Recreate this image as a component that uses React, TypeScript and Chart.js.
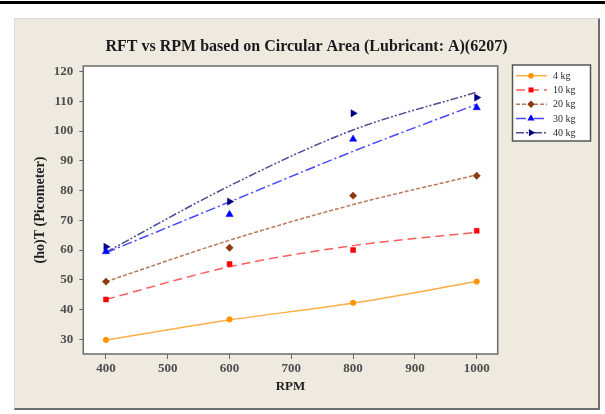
import React, { useEffect, useRef } from "react";
import { Chart, registerables } from "chart.js";

Chart.register(...registerables);

// ---- data ----
const rpmValues = [400, 600, 800, 1000];
const seriesNames = ["4 kg", "10 kg", "20 kg", "30 kg", "40 kg"];

// measured points
const points4kg = [29.8, 36.7, 42.3, 49.4];
const points10kg = [43.4, 55.3, 60.0, 66.5];
const points20kg = [49.4, 60.8, 78.3, 85.0];
const points30kg = [59.5, 72.0, 97.3, 107.9];
const points40kg = [61.1, 76.3, 106.0, 111.3];

// fitted curves
const fit4kg = [29.8, 36.5, 42.2, 49.4];
const fit10kg = [43.4, 54.4, 61.5, 66.0];
const fit20kg = [49.4, 63.3, 75.3, 85.3];
const fit30kg = [59.1, 76.2, 93.2, 109.0];
const fit40kg = [59.3, 81.6, 100.4, 113.1];

const titleText = "RFT vs RPM based on Circular Area (Lubricant: A)(6207)";
const xTitle = "RPM";
const yTitle = "(ho)T (Picometer)";

const pointSets = [points4kg, points10kg, points20kg, points30kg, points40kg];
const fitSets = [fit4kg, fit10kg, fit20kg, fit30kg, fit40kg];

// ---- styles ----
const seriesStyles = [
  { marker: "#FF9400", line: "#FFAD45", pointStyle: "circle", rotation: 0, radius: 2.8, dash: [] as number[] },
  { marker: "#FF0000", line: "#FF5C5C", pointStyle: "rect", rotation: 0, radius: 3.5, dash: [9, 5] },
  { marker: "#8B3A10", line: "#B97A5C", pointStyle: "rectRot", rotation: 0, radius: 3.7, dash: [4, 2] },
  { marker: "#0000FF", line: "#4848FF", pointStyle: "triangle", rotation: 0, radius: 4.2, dash: [10, 3, 2, 3] },
  { marker: "#000080", line: "#4C4C92", pointStyle: "triangle", rotation: 90, radius: 4.2, dash: [8, 2, 2, 2, 2, 2] },
];

const serif = '"Liberation Serif", "DejaVu Serif", serif';

function drawMarker(ctx: CanvasRenderingContext2D, style: string, x: number, y: number, r: number, rotationDeg: number) {
  ctx.beginPath();
  const rad = (rotationDeg * Math.PI) / 180;
  if (style === "circle") {
    ctx.arc(x, y, r, 0, Math.PI * 2);
  } else if (style === "rect") {
    const s = r * Math.SQRT1_2;
    ctx.rect(x - s, y - s, 2 * s, 2 * s);
  } else if (style === "rectRot") {
    ctx.moveTo(x, y - r);
    ctx.lineTo(x + r, y);
    ctx.lineTo(x, y + r);
    ctx.lineTo(x - r, y);
    ctx.closePath();
  } else if (style === "triangle") {
    let a = rad;
    ctx.moveTo(x + Math.sin(a) * r, y - Math.cos(a) * r);
    a += (2 * Math.PI) / 3;
    ctx.lineTo(x + Math.sin(a) * r, y - Math.cos(a) * r);
    a += (2 * Math.PI) / 3;
    ctx.lineTo(x + Math.sin(a) * r, y - Math.cos(a) * r);
    ctx.closePath();
  }
  ctx.fill();
}

const decorPlugin = {
  id: "decor",
  beforeDraw(chart: any) {
    const { ctx, chartArea } = chart;
    ctx.save();
    ctx.fillStyle = "#ffffff";
    ctx.fillRect(chartArea.left, chartArea.top, chartArea.right - chartArea.left, chartArea.bottom - chartArea.top);
    ctx.restore();
  },
  afterDraw(chart: any) {
    const { ctx, chartArea } = chart;
    ctx.save();
    // plot frame
    ctx.strokeStyle = "#6a6a6a";
    ctx.lineWidth = 1.5;
    ctx.setLineDash([]);
    ctx.strokeRect(chartArea.left, chartArea.top, chartArea.right - chartArea.left, chartArea.bottom - chartArea.top);

    // title
    ctx.fillStyle = "#1a1a1a";
    ctx.font = `bold 16px ${serif}`;
    ctx.textAlign = "center";
    ctx.textBaseline = "middle";
    ctx.fillText(titleText, 306.5, 47);

    // legend
    const bx = 512.5, by = 65, bw = 78, bh = 76;
    ctx.fillStyle = "#ffffff";
    ctx.fillRect(bx, by, bw, bh);
    ctx.strokeStyle = "#555555";
    ctx.lineWidth = 1.5;
    ctx.strokeRect(bx, by, bw, bh);
    seriesNames.forEach((name, i) => {
      const st = seriesStyles[i];
      const y = 75.7 + i * 14.25;
      ctx.strokeStyle = st.line;
      ctx.lineWidth = 1.5;
      ctx.setLineDash(st.dash);
      ctx.beginPath();
      ctx.moveTo(516, y);
      ctx.lineTo(547, y);
      ctx.stroke();
      ctx.setLineDash([]);
      ctx.fillStyle = st.marker;
      drawMarker(ctx, st.pointStyle, 531, y, st.radius, st.rotation);
      ctx.fillStyle = "#2a2a2a";
      ctx.font = `10px ${serif}`;
      ctx.textAlign = "left";
      ctx.textBaseline = "middle";
      ctx.fillText(name, 553, y + 0.5);
    });
    ctx.restore();
  },
};

export default function App() {
  const canvasRef = useRef<HTMLCanvasElement | null>(null);

  useEffect(() => {
    if (!canvasRef.current) return;

    const pointDatasets = pointSets.map((vals, i) => ({
      label: seriesNames[i] + " points",
      data: rpmValues.map((x, j) => ({ x, y: vals[j] })),
      showLine: false,
      pointStyle: seriesStyles[i].pointStyle,
      pointRotation: seriesStyles[i].rotation,
      pointRadius: seriesStyles[i].radius,
      pointBackgroundColor: seriesStyles[i].marker,
      pointBorderColor: seriesStyles[i].marker,
      pointBorderWidth: 0.5,
      borderColor: seriesStyles[i].marker,
      backgroundColor: seriesStyles[i].marker,
    }));

    const fitDatasets = fitSets.map((vals, i) => ({
      label: seriesNames[i] + " fit",
      data: rpmValues.map((x, j) => ({ x, y: vals[j] })),
      showLine: true,
      pointRadius: 0,
      borderColor: seriesStyles[i].line,
      borderWidth: 1.5,
      borderDash: seriesStyles[i].dash,
      cubicInterpolationMode: "monotone" as const,
      fill: false,
    }));

    const chart = new Chart(canvasRef.current, {
      type: "line",
      data: { datasets: [...pointDatasets, ...fitDatasets] as any },
      options: {
        responsive: false,
        animation: false,
        devicePixelRatio: 1,
        layout: { padding: { left: 0, top: 66, right: 107.3, bottom: 0 } },
        plugins: {
          legend: { display: false },
          title: { display: false },
          tooltip: { enabled: false },
        },
        scales: {
          x: {
            type: "linear",
            min: 363.3,
            max: 1034,
            afterFit: (s: any) => {
              s.height = 60;
            },
            ticks: {
              stepSize: 100,
              includeBounds: false,
              autoSkip: false,
              maxRotation: 0,
              color: "#4d4d4d",
              font: { family: serif, size: 13, weight: "bold" },
              padding: 2,
              callback: (v: any) => String(v),
            },
            grid: { display: true, drawOnChartArea: false, drawTicks: true, tickLength: 5, color: "#666666" },
            border: { display: false },
            title: {
              display: true,
              text: xTitle,
              color: "#1e1e1e",
              font: { family: serif, size: 13, weight: "bold" },
              padding: { top: 0, bottom: 19.7 },
            },
          },
          y: {
            type: "linear",
            min: 25.06,
            max: 121.9,
            afterFit: (s: any) => {
              s.width = 83.3;
            },
            ticks: {
              stepSize: 10,
              includeBounds: false,
              autoSkip: false,
              color: "#4d4d4d",
              font: { family: serif, size: 13, weight: "bold" },
              padding: 6,
              callback: (v: any) => String(v),
            },
            grid: { display: true, drawOnChartArea: false, drawTicks: true, tickLength: 4, color: "#666666" },
            border: { display: false },
            title: {
              display: true,
              text: yTitle,
              color: "#1e1e1e",
              font: { family: serif, size: 14, weight: "bold" },
              padding: { top: 31.6, bottom: 0 },
            },
          },
        },
      } as any,
      plugins: [decorPlugin],
    });

    return () => chart.destroy();
  }, []);

  return (
    <div style={{ position: "absolute", left: 0, top: 0, width: 605, height: 414, background: "#ffffff", overflow: "hidden" }}>
      <div style={{ position: "absolute", left: 0, top: 1, width: 605, height: 3, background: "#000000" }} />
      <div
        style={{
          position: "absolute",
          left: 14,
          top: 18,
          width: 583,
          height: 389,
          background: "#EEEAE0",
          borderTop: "1px solid #dedbd3",
          borderLeft: "1px solid #dedbd3",
          borderRight: "2px solid #6e6e6e",
          borderBottom: "2px solid #6e6e6e",
        }}
      />
      <canvas ref={canvasRef} width={605} height={414} style={{ position: "absolute", left: 0, top: 0, width: 605, height: 414 }} />
    </div>
  );
}
